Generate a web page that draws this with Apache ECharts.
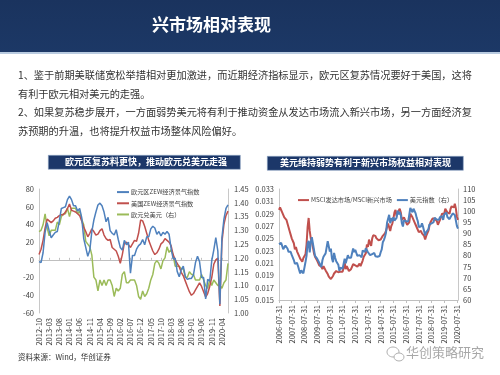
<!DOCTYPE html>
<html><head><meta charset="utf-8">
<script src="https://cdn.jsdelivr.net/npm/echarts@6/dist/echarts.min.js"></script>
<style>html,body{margin:0;padding:0;background:#fff}#c{width:500px;height:375px}</style>
</head><body><div id="c"></div>
<script>
// ---------- DATA ----------
const leftMonths = [];
for (let y = 2012, m = 10; y < 2020 || (y === 2020 && m <= 7); ) {
  leftMonths.push(y + '-' + String(m).padStart(2, '0'));
  m++; if (m > 12) { m = 1; y++; }
}
const euZew = [
  -2, -3, 8,
  31, 42, 33, 25, 28, 31, 32, 44, 58, 59, 60, 68,
  72, 68, 61, 61, 55, 58, 48, 24, 14, 4, 11, 32,
  45, 54, 62, 64, 61, 54, 43, 48, 33, 30, 28, 34,
  23, 14, 11, 22, 17, 20, -15, 5, 5, 12, 16, 18,
  23, 17, 26, 26, 35, 38, 36, 29, 32, 27, 31, 29,
  32, 29, 13, 1, 2, -13, -19, -11, -7, -19, -22, -21,
  -21, -17, -3, 4, -2, -20, -20, -44, -22, -24, -1, 11,
  25, 10, -50, 25, 46, 58, 62
];
const usZew = [
  6, 12, 22,
  36, 46, 44, 42, 44, 47, 48, 50, 51, 51, 54, 58,
  63, 56, 55, 54, 52, 50, 44, 37, 32, 26, 30, 35,
  32, 28, 29, 33, 35, 28, 24, 22, 23, 14, 12, 10,
  4, -4, 6, 19, 20, 17, 14, 18, 22, 21, 30, 45,
  44, 38, 30, 22, 16, 10, 6, 8, 12, 18, 20, 24,
  22, 20, 16, 6, 0, -4, -8, -14, -18, -24, -30, -36,
  -40, -38, -34, -30, -26, -30, -36, -42, -38, -30, -20, -5,
  0, 2, -52, 20, 40, 50, 55
];
const eurUsd = [
  1.295, 1.30, 1.32,
  1.36, 1.31, 1.28, 1.30, 1.30, 1.30, 1.33, 1.32, 1.35, 1.36, 1.36, 1.38,
  1.35, 1.38, 1.38, 1.38, 1.36, 1.37, 1.34, 1.32, 1.26, 1.25, 1.24, 1.21,
  1.13, 1.12, 1.08, 1.12, 1.10, 1.12, 1.10, 1.12, 1.12, 1.10, 1.06, 1.09,
  1.08, 1.09, 1.14, 1.15, 1.11, 1.11, 1.12, 1.12, 1.12, 1.10, 1.06, 1.05,
  1.08, 1.06, 1.07, 1.09, 1.12, 1.14, 1.18, 1.19, 1.18, 1.16, 1.19, 1.20,
  1.24, 1.22, 1.23, 1.21, 1.17, 1.17, 1.17, 1.16, 1.16, 1.13, 1.13, 1.15,
  1.14, 1.14, 1.12, 1.12, 1.12, 1.14, 1.12, 1.10, 1.09, 1.12, 1.10, 1.12,
  1.11, 1.10, 1.10, 1.09, 1.11, 1.12, 1.18
];
const leftNames = ['欧元区ZEW经济景气指数', '美国ZEW经济景气指数', '欧元兑美元（右）'];

const rightDates = [];
for (let y = 2006, m = 7; y < 2020 || (y === 2020 && m <= 8); ) {
  const d = new Date(y, m, 0).getDate();
  rightDates.push(y + '-' + String(m).padStart(2, '0') + '-' + d);
  m++; if (m > 12) { m = 1; y++; }
}
const dmEmRatio = [
  0.0296, 0.0300, 0.0298, 0.0292, 0.0288, 0.0284,
  0.0285, 0.0280, 0.0274, 0.0268, 0.0262, 0.0256, 0.0250, 0.0252, 0.0242, 0.0232, 0.0236, 0.0229,
  0.0230, 0.0221, 0.0217, 0.0214, 0.0212, 0.0218, 0.0221, 0.0224, 0.0240, 0.0268, 0.0283, 0.0262,
  0.0250, 0.0245, 0.0236, 0.0226, 0.0220, 0.0218, 0.0214, 0.0212, 0.0206, 0.0208, 0.0204, 0.0200,
  0.0205, 0.0203, 0.0198, 0.0199, 0.0192, 0.0188, 0.0186, 0.0184, 0.0185, 0.0189, 0.0193, 0.0190,
  0.0197, 0.0199, 0.0195, 0.0194, 0.0196, 0.0198, 0.0196, 0.0202, 0.0211, 0.0200, 0.0205, 0.0203,
  0.0197, 0.0194, 0.0200, 0.0203, 0.0208, 0.0205, 0.0206, 0.0208, 0.0204, 0.0206, 0.0209, 0.0205,
  0.0207, 0.0214, 0.0220, 0.0222, 0.0226, 0.0240, 0.0236, 0.0248, 0.0242, 0.0238, 0.0250, 0.0255,
  0.0258, 0.0254, 0.0250, 0.0249, 0.0247, 0.0246, 0.0248, 0.0250, 0.0254, 0.0256, 0.0258, 0.0262,
  0.0268, 0.0274, 0.0272, 0.0262, 0.0270, 0.0274, 0.0282, 0.0292, 0.0296, 0.0286, 0.0292, 0.0294,
  0.0298, 0.0292, 0.0280, 0.0278, 0.0284, 0.0282, 0.0276, 0.0272, 0.0270, 0.0276, 0.0290, 0.0292,
  0.0284, 0.0280, 0.0276, 0.0272, 0.0268, 0.0266, 0.0260, 0.0258, 0.0262, 0.0258, 0.0256, 0.0254,
  0.0248, 0.0254, 0.0258, 0.0262, 0.0270, 0.0276, 0.0274, 0.0282, 0.0285, 0.0282, 0.0280, 0.0278,
  0.0272, 0.0276, 0.0280, 0.0282, 0.0290, 0.0288, 0.0290, 0.0298, 0.0296, 0.0292, 0.0294, 0.0290,
  0.0298, 0.0302, 0.0305, 0.0300, 0.0306, 0.0298, 0.0285, 0.0280
];
const dxy = [
  85.2, 85.0, 85.8, 84.9, 82.9, 83.7,
  84.5, 83.6, 83.2, 81.7, 82.0, 81.7, 80.3, 80.9, 78.0, 76.3, 75.9, 76.7,
  75.2, 73.5, 72.0, 73.4, 73.0, 72.0, 72.8, 77.1, 79.9, 85.6, 86.6, 81.4,
  86.0, 88.3, 85.5, 85.0, 79.9, 80.1, 78.6, 78.3, 76.8, 76.5, 74.8, 77.9,
  79.5, 80.4, 81.0, 81.8, 86.5, 86.0, 81.8, 83.1, 78.7, 77.0, 81.2, 79.0,
  77.5, 76.6, 75.9, 73.1, 74.6, 74.3, 74.0, 74.3, 78.6, 76.5, 78.4, 80.2,
  79.0, 78.7, 79.0, 78.9, 83.2, 81.6, 82.6, 81.2, 79.9, 80.0, 80.2, 79.8,
  79.2, 82.3, 83.0, 81.6, 83.3, 83.1, 81.5, 81.9, 80.2, 79.7, 80.7, 80.0,
  81.2, 79.7, 80.1, 79.5, 80.4, 79.8, 81.5, 82.8, 86.0, 87.0, 88.4, 90.3,
  94.8, 95.3, 98.4, 94.6, 96.9, 95.5, 97.3, 95.8, 96.3, 97.0, 100.2, 98.6,
  99.6, 98.2, 94.6, 93.1, 95.9, 96.1, 95.5, 96.0, 95.4, 98.4, 101.5, 102.2,
  99.5, 101.1, 100.4, 99.0, 97.0, 95.6, 92.9, 92.7, 93.1, 94.5, 93.0, 92.1,
  89.1, 90.6, 90.2, 91.8, 94.0, 94.5, 94.5, 95.1, 95.1, 97.1, 97.3, 96.2,
  95.6, 96.2, 97.3, 97.5, 97.8, 96.1, 98.5, 98.9, 99.4, 97.4, 98.3, 96.4,
  97.4, 98.1, 99.0, 99.0, 98.3, 97.4, 93.3, 92.1
];
const rightNames = ['MSCI发达市场/MSCI新兴市场', '美元指数（右）'];

const bodyLines = [
  '1、鉴于前期美联储宽松举措相对更加激进，而近期经济指标显示，欧元区复苏情况要好于美国，这将',
  '有利于欧元相对美元的走强。',
  '2、如果复苏稳步展开，一方面弱势美元将有利于推动资金从发达市场流入新兴市场，另一方面经济复',
  '苏预期的升温，也将提升权益市场整体风险偏好。'
];
const headerTitle = '兴市场相对表现';
const leftTitle = '欧元区复苏料更快，推动欧元兑美元走强';
const rightTitle = '美元维持弱势有利于新兴市场权益相对表现';
const sourceText = '资料来源：Wind，华创证券';
const watermark = '华创策略研究';

// ---------- STYLE ----------
const FONT = '"Noto Sans CJK SC", "Noto Sans", sans-serif';
const C_BLUE = '#4f81bd', C_RED = '#c0504d', C_GREEN = '#9bbb59';
const axisTxt = { fontSize: 7.5, color: '#404040', fontFamily: FONT };
const axisLn = { show: true, lineStyle: { color: '#c8c8c8', width: 1 } };
const legTxt = { fontSize: 6.2, color: '#404040', fontFamily: FONT, padding: [0, 0, 0, -3] };

const chart = echarts.init(document.getElementById('c'), null, { renderer: 'canvas' });

const bodyGraphics = bodyLines.map((t, i) => ({
  type: 'text', left: 18, top: [70, 89, 107, 126][i],
  style: { text: t, fill: '#333', font: '10.2px ' + FONT }
}));

chart.setOption({
  backgroundColor: '#fff',
  animation: false,
  textStyle: { fontFamily: FONT },
  grid: [
    { left: 39, right: 272, top: 189, bottom: 62 },
    { left: 279, right: 42, top: 189, bottom: 75 }
  ],
  legend: [
    {
      data: leftNames, orient: 'vertical', left: 112, top: 184,
      icon: 'rect', itemWidth: 12, itemHeight: 2, itemGap: 5,
      textStyle: legTxt
    },
    {
      data: rightNames, orient: 'horizontal', left: 293, top: 192,
      icon: 'rect', itemWidth: 11, itemHeight: 2, itemGap: 5,
      textStyle: legTxt
    }
  ],
  xAxis: [
    {
      gridIndex: 0, type: 'category', data: leftMonths, boundaryGap: false,
      axisLine: { show: false, onZero: false }, axisTick: { show: false },
      axisLabel: Object.assign({ rotate: 90, interval: 4, margin: 5 }, axisTxt)
    },
    {
      gridIndex: 0, type: 'category', data: leftMonths, boundaryGap: false,
      axisLine: { show: true, onZero: true, onZeroAxisIndex: 0, lineStyle: { color: '#bfbfbf' } },
      axisTick: { show: true, interval: 4, length: 2, lineStyle: { color: '#bfbfbf' } },
      axisLabel: { show: false }
    },
    {
      gridIndex: 1, type: 'category', data: rightDates, boundaryGap: false,
      axisLine: { show: true, lineStyle: { color: '#bfbfbf' } },
      axisTick: { show: true, interval: 11, length: 3, lineStyle: { color: '#bfbfbf' } },
      axisLabel: Object.assign({ rotate: 90, interval: 11, margin: 5 }, axisTxt)
    }
  ],
  yAxis: [
    {
      gridIndex: 0, type: 'value', min: -60, max: 80, interval: 20,
      axisLine: axisLn, axisTick: { show: false }, splitLine: { show: false },
      axisLabel: Object.assign({ margin: 5 }, axisTxt)
    },
    {
      gridIndex: 0, type: 'value', position: 'right', min: 1.0, max: 1.45, interval: 0.05,
      axisLine: axisLn, axisTick: { show: false }, splitLine: { show: false },
      axisLabel: Object.assign({ margin: 6, formatter: v => v.toFixed(2) }, axisTxt)
    },
    {
      gridIndex: 1, type: 'value', min: 0.015, max: 0.033, interval: 0.002,
      axisLine: axisLn, axisTick: { show: false }, splitLine: { show: false },
      axisLabel: Object.assign({ margin: 5, formatter: v => v.toFixed(3) }, axisTxt)
    },
    {
      gridIndex: 1, type: 'value', position: 'right', min: 60, max: 110, interval: 5,
      axisLine: axisLn, axisTick: { show: false }, splitLine: { show: false },
      axisLabel: Object.assign({ margin: 5 }, axisTxt)
    }
  ],
  series: [
    { name: leftNames[2], type: 'line', xAxisIndex: 0, yAxisIndex: 1, data: eurUsd,
      symbol: 'none', lineStyle: { width: 1.5, color: C_GREEN }, itemStyle: { color: C_GREEN } },
    { name: leftNames[1], type: 'line', xAxisIndex: 0, yAxisIndex: 0, data: usZew,
      symbol: 'none', lineStyle: { width: 1.5, color: C_RED }, itemStyle: { color: C_RED } },
    { name: leftNames[0], type: 'line', xAxisIndex: 0, yAxisIndex: 0, data: euZew,
      symbol: 'none', lineStyle: { width: 1.5, color: C_BLUE }, itemStyle: { color: C_BLUE } },
    { name: rightNames[0], type: 'line', xAxisIndex: 2, yAxisIndex: 2, data: dmEmRatio,
      symbol: 'none', lineStyle: { width: 2, color: C_RED }, itemStyle: { color: C_RED } },
    { name: rightNames[1], type: 'line', xAxisIndex: 2, yAxisIndex: 3, data: dxy,
      symbol: 'none', lineStyle: { width: 2, color: C_BLUE }, itemStyle: { color: C_BLUE } }
  ],
  graphic: [
    { type: 'rect', left: 0, top: 0, shape: { width: 500, height: 52 },
      style: { fill: new echarts.graphic.LinearGradient(0, 0, 0, 1, [
        { offset: 0, color: '#1a335e' }, { offset: 1, color: '#1c3866' }]) } },
    { type: 'rect', left: 0, top: 52, shape: { width: 500, height: 2 }, style: { fill: '#b9cbe0' } },
    { type: 'text', left: 152, top: 16,
      style: { text: headerTitle, fill: '#fff', font: 'bold 17px ' + FONT } },
    ...bodyGraphics,
    { type: 'rect', left: 48, top: 155, shape: { width: 192, height: 14 },
      style: { fill: '#1c3769', stroke: '#8fa6c6', lineWidth: 0.6 } },
    { type: 'text', top: 157, left: 65,
      style: { text: leftTitle, fill: '#fff', font: 'bold 9px ' + FONT } },
    { type: 'rect', left: 267, top: 156, shape: { width: 196, height: 14 },
      style: { fill: '#1c3769', stroke: '#8fa6c6', lineWidth: 0.6 } },
    { type: 'text', top: 158, left: 280,
      style: { text: rightTitle, fill: '#fff', font: 'bold 9px ' + FONT } },
    { type: 'text', left: 18, top: 353,
      style: { text: sourceText, fill: '#333', font: '7.5px ' + FONT } },
    { type: 'ellipse', shape: { cx: 393, cy: 352, rx: 6, ry: 5 },
      style: { fill: 'none', stroke: '#b0b0b0', lineWidth: 1 } },
    { type: 'ellipse', shape: { cx: 399, cy: 357, rx: 5, ry: 4 },
      style: { fill: '#fff', stroke: '#b0b0b0', lineWidth: 1 } },
    { type: 'text', left: 406, top: 346,
      style: { text: watermark, fill: '#a8a8a8', font: '13px ' + FONT } }
  ]
});
</script></body></html>
